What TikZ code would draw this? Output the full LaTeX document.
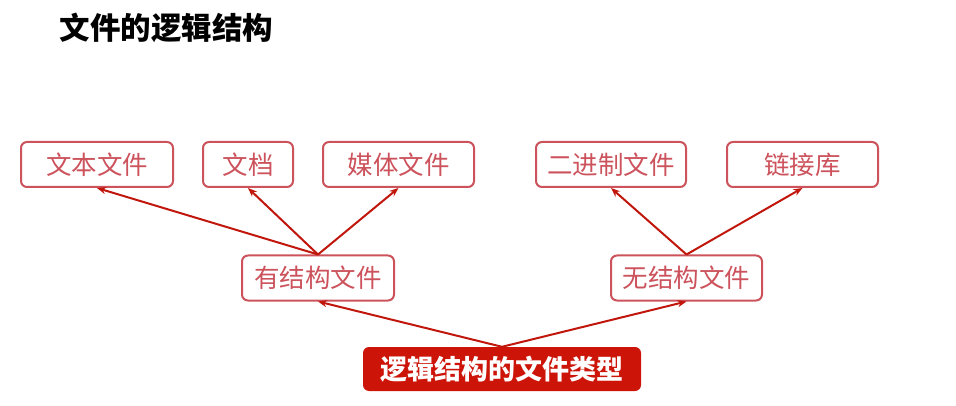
\documentclass[tikz,border=0pt]{standalone}
\usepackage{fontspec}
\setmainfont{Noto Sans CJK SC}
\usepackage{xcolor}
\usetikzlibrary{arrows.meta}

\definecolor{boxRed}{RGB}{204,82,92}
\definecolor{arrowRed}{RGB}{192,22,12}
\definecolor{rootRed}{RGB}{204,20,8}

\tikzset{
  hoja/.style={draw=boxRed, line width=2pt, rounded corners=6pt, text=boxRed,
    minimum height=45pt, inner sep=0pt, font=\fontsize{25.5}{25.5}\selectfont},
  raiz/.style={fill=rootRed, rounded corners=6pt, text=white,
    minimum width=278pt, minimum height=44pt, inner sep=0pt, font=\bfseries\fontsize{27}{27}\selectfont},
  flecha/.style={draw=arrowRed, line width=2pt, -{Stealth[length=9pt, width=7pt]}}
}

\begin{document}
\begin{tikzpicture}[x=1pt,y=-1pt]
                \useasboundingbox (0,0) rectangle (956,406);
                \node[anchor=west, font=\bfseries\fontsize{30.5}{30.5}\selectfont] (titulo) at (56,28) {文件的逻辑结构};
                % primer nivel
                \node[hoja, minimum width=152pt] (texto) at (97,164.5) {文本文件};
                \node[hoja, minimum width=90pt] (doc) at (248,164.5) {文档};
                \node[hoja, minimum width=151pt] (media) at (398.5,164.5) {媒体文件};
                \node[hoja, minimum width=150pt] (binario) at (611,164.5) {二进制文件};
                \node[hoja, minimum width=151pt] (enlace) at (802.5,164.5) {链接库};
                % segundo nivel
                \node[hoja, minimum width=152pt] (conEst) at (318,278) {有结构文件};
                \node[hoja, minimum width=151pt] (sinEst) at (686.5,278) {无结构文件};
                \node[raiz] (tipos) at (502,369) {逻辑结构的文件类型};
                \foreach \hijo in {texto,doc,media} {
                  \draw[flecha] (conEst.north) -- (\hijo.south);
                }
                \foreach \hijo in {binario,enlace} {
                  \draw[flecha] (sinEst.north) -- (\hijo.south);
                }
                \draw[flecha] (tipos.north) -- (conEst.south);
                \draw[flecha] (tipos.north) -- (sinEst.south);
              \end{tikzpicture}
\end{document}
